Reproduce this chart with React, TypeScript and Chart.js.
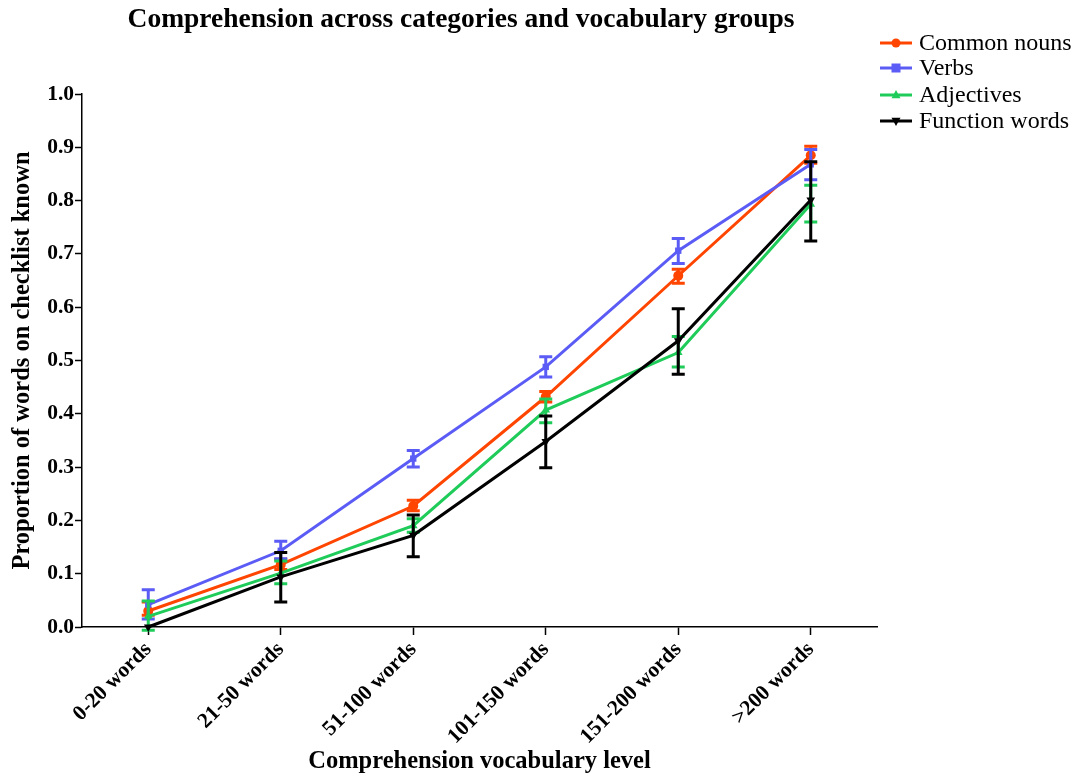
import React, { useEffect, useRef } from "react";
import { Chart, registerables } from "chart.js";

Chart.register(...registerables);

const categories = ["0-20 words", "21-50 words", "51-100 words", "101-150 words", "151-200 words", ">200 words"];
const yTicks = [0, 0.1, 0.2, 0.3, 0.4, 0.5, 0.6, 0.7, 0.8, 0.9, 1.0];

const nouns = [0.03, 0.117, 0.227, 0.432, 0.659, 0.885];
const nounsLow = [0.022, 0.108, 0.218, 0.422, 0.645, 0.87];
const nounsHigh = [0.047, 0.127, 0.238, 0.442, 0.671, 0.902];

const verbs = [0.042, 0.143, 0.316, 0.488, 0.706, 0.868];
const verbsLow = [0.015, 0.128, 0.3, 0.469, 0.682, 0.839];
const verbsHigh = [0.07, 0.161, 0.331, 0.507, 0.729, 0.896];

const adjectives = [0.02, 0.101, 0.19, 0.407, 0.515, 0.793];
const adjectivesLow = [-0.006, 0.081, 0.178, 0.383, 0.488, 0.76];
const adjectivesHigh = [0.049, 0.124, 0.203, 0.428, 0.545, 0.829];

const functionWords = [0.0, 0.094, 0.172, 0.348, 0.537, 0.801];
const functionLow = [0.0, 0.047, 0.132, 0.299, 0.474, 0.724];
const functionHigh = [0.0, 0.14, 0.21, 0.396, 0.597, 0.873];

const ORANGE = "#FF4500";
const BLUE = "#5B5BF5";
const GREEN = "#1FCC5A";
const BLACK = "#000000";

const SERIF = "'Liberation Serif', 'Times New Roman', serif";

function drawMarker(ctx: CanvasRenderingContext2D, style: string, x: number, y: number, r: number, color: string) {
  ctx.save();
  ctx.fillStyle = color;
  ctx.beginPath();
  if (style === "circle") {
    ctx.arc(x, y, r, 0, Math.PI * 2);
  } else if (style === "rect") {
    ctx.rect(x - r, y - r, 2 * r, 2 * r);
  } else if (style === "triangle") {
    ctx.moveTo(x, y - r * 1.1);
    ctx.lineTo(x + r, y + r * 0.7);
    ctx.lineTo(x - r, y + r * 0.7);
    ctx.closePath();
  } else if (style === "triangleDown") {
    ctx.moveTo(x, y + r * 1.1);
    ctx.lineTo(x + r, y - r * 0.7);
    ctx.lineTo(x - r, y - r * 0.7);
    ctx.closePath();
  }
  ctx.fill();
  ctx.restore();
}

const errorBarPlugin = {
  id: "errorBars",
  afterDatasetDraw(chart: any, args: any) {
    const ds = chart.data.datasets[args.index] as any;
    if (!ds.errLow) return;
    const ctx = chart.ctx as CanvasRenderingContext2D;
    const y = chart.scales.y;
    const meta = chart.getDatasetMeta(args.index);
    ctx.save();
    ctx.strokeStyle = ds.borderColor;
    ctx.lineWidth = 3;
    meta.data.forEach((pt: any, i: number) => {
      const lo = y.getPixelForValue(ds.errLow[i]);
      const hi = y.getPixelForValue(ds.errHigh[i]);
      if (Math.abs(lo - hi) < 1) return;
      const x = pt.x;
      const cap = 6.5;
      ctx.beginPath();
      ctx.moveTo(x, lo);
      ctx.lineTo(x, hi);
      ctx.moveTo(x - cap, lo);
      ctx.lineTo(x + cap, lo);
      ctx.moveTo(x - cap, hi);
      ctx.lineTo(x + cap, hi);
      ctx.stroke();
    });
    ctx.restore();
  },
};

const customLegendPlugin = {
  id: "customLegend",
  afterDraw(chart: any) {
    const ctx = chart.ctx as CanvasRenderingContext2D;
    const x0 = 872;
    const rows = [35, 60, 87, 113];
    ctx.save();
    ctx.font = `24px ${SERIF}`;
    ctx.textBaseline = "middle";
    ctx.textAlign = "left";
    chart.data.datasets.forEach((ds: any, i: number) => {
      const y = rows[i];
      ctx.strokeStyle = ds.borderColor;
      ctx.lineWidth = 3;
      ctx.beginPath();
      ctx.moveTo(x0, y);
      ctx.lineTo(x0 + 32, y);
      ctx.stroke();
      drawMarker(ctx, ds.markerStyle, x0 + 16, y, 4.5, ds.borderColor);
      ctx.fillStyle = "#000";
      ctx.fillText(ds.label, x0 + 39, y + 1);
    });
    ctx.restore();
  },
};

const titlePlugin = {
  id: "customTitle",
  afterDraw(chart: any) {
    const ctx = chart.ctx as CanvasRenderingContext2D;
    ctx.save();
    ctx.font = `bold 27.5px ${SERIF}`;
    ctx.fillStyle = "#000";
    ctx.textAlign = "center";
    ctx.textBaseline = "middle";
    ctx.fillText("Comprehension across categories and vocabulary groups", 453, 12);
    ctx.restore();
  },
};

export default function App() {
  const ref = useRef<HTMLCanvasElement | null>(null);

  useEffect(() => {
    if (!ref.current) return;
    const mk = (label: string, data: number[], lo: number[], hi: number[], color: string, style: string, order: number) => {
      const ps = style === "triangleDown" ? "triangle" : style;
      return {
        label,
        data,
        errLow: lo,
        errHigh: hi,
        markerStyle: style,
        borderColor: color,
        backgroundColor: color,
        pointBackgroundColor: color,
        pointBorderColor: color,
        pointStyle: ps,
        pointRotation: style === "triangleDown" ? 180 : 0,
        pointRadius: style === "rect" ? 4.5 : 5,
        pointBorderWidth: 0,
        borderWidth: 3,
        tension: 0,
        clip: false,
        order,
      } as any;
    };
    const chart = new Chart(ref.current, {
      type: "line",
      data: {
        labels: categories,
        datasets: [
          mk("Common nouns", nouns, nounsLow, nounsHigh, ORANGE, "circle", 4),
          mk("Verbs", verbs, verbsLow, verbsHigh, BLUE, "rect", 3),
          mk("Adjectives", adjectives, adjectivesLow, adjectivesHigh, GREEN, "triangle", 2),
          mk("Function words", functionWords, functionLow, functionHigh, BLACK, "triangleDown", 1),
        ],
      },
      options: {
        animation: false,
        responsive: false,
        maintainAspectRatio: false,
        layout: { padding: { top: 86, right: 198, left: 0, bottom: 0 } },
        plugins: {
          legend: { display: false },
          title: { display: false },
          tooltip: { enabled: false },
        },
        scales: {
          x: {
            type: "category",
            offset: true,
            grid: {
              offset: false,
              drawOnChartArea: false,
              drawTicks: true,
              tickLength: 8,
              tickWidth: 1.5,
              tickColor: "#000",
            },
            border: { display: true, color: "#000", width: 1.5 },
            ticks: {
              color: "#000",
              font: { family: SERIF, size: 21.5, weight: "bold" },
              minRotation: 45,
              maxRotation: 45,
              padding: 2,
            },
            title: {
              display: true,
              text: "Comprehension vocabulary level",
              color: "#000",
              font: { family: SERIF, size: 24.5, weight: "bold" },
              padding: { top: 0, bottom: -2 },
            },
            afterFit: (s: any) => {
              s.height = 147;
            },
          },
          y: {
            min: 0,
            max: 1,
            afterBuildTicks: (s: any) => {
              s.ticks = yTicks.map((v) => ({ value: v }));
            },
            grid: {
              drawOnChartArea: false,
              drawTicks: true,
              tickLength: 7,
              tickWidth: 1.5,
              tickColor: "#000",
            },
            border: { display: true, color: "#000", width: 1.5 },
            ticks: {
              color: "#000",
              font: { family: SERIF, size: 21.5, weight: "bold" },
              padding: 1,
              callback: (v: any) => Number(v).toFixed(1),
            },
            title: {
              display: true,
              text: "Proportion of words on checklist known",
              color: "#000",
              font: { family: SERIF, size: 24.5, weight: "bold" },
              padding: { top: 0, bottom: 0 },
            },
            afterFit: (s: any) => {
              s.width = 74;
            },
          },
        },
      },
      plugins: [errorBarPlugin, customLegendPlugin, titlePlugin],
    } as any);
    return () => chart.destroy();
  }, []);

  return (
    <div style={{ width: 1067, height: 766 }}>
      <canvas ref={ref} width={1067} height={766} style={{ display: "block" }} />
    </div>
  );
}
